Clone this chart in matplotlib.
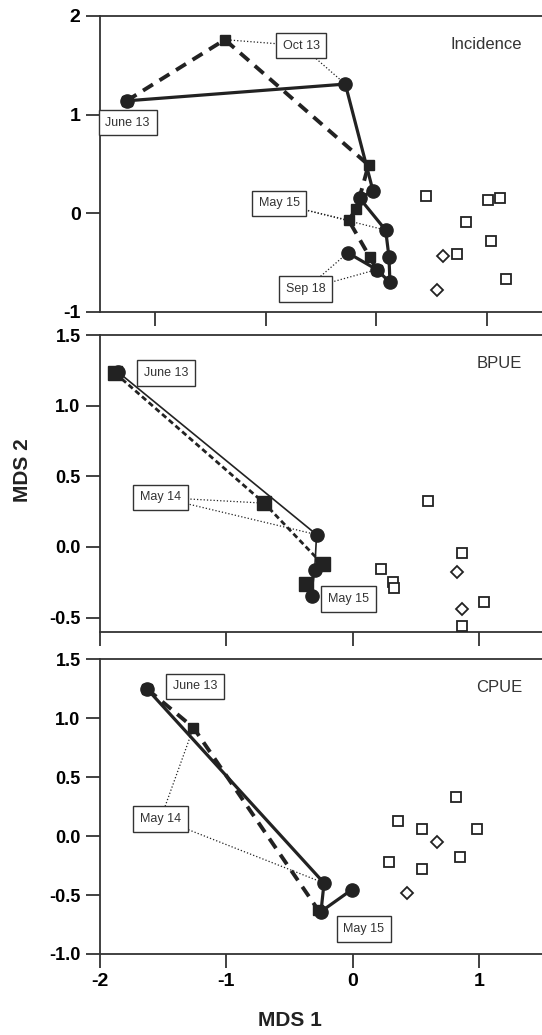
import matplotlib
matplotlib.use("Agg")
import matplotlib.pyplot as plt
from matplotlib.ticker import FormatStrFormatter

plt.rcParams['font.family'] = ['Liberation Sans', 'DejaVu Sans']
plt.rcParams['axes.unicode_minus'] = False

# --- Incidence (oberes Feld) ---
inc_line_x = [-2.26, -0.28, -0.03, -0.15, 0.085, 0.115, 0.124, 0.004, -0.258]
inc_line_y = [1.14, 1.31, 0.23, 0.153, -0.17, -0.44, -0.70, -0.57, -0.40]
inc_dash_x = [-2.26, -1.37, -0.07, -0.18, -0.25, -0.06, 0.004]
inc_dash_y = [1.14, 1.76, 0.49, 0.045, -0.07, -0.44, -0.57]
inc_sq_x = [0.447, 1.014, 1.12, 0.812, 1.038, 0.734, 1.174]
inc_sq_y = [0.18, 0.14, 0.156, -0.09, -0.28, -0.41, -0.67]
inc_dia_x = [0.601, 0.547]
inc_dia_y = [-0.43, -0.78]
inc_labels = [("Oct 13", -0.68, 1.70, [(-1.37, 1.76), (-0.28, 1.31)]),
              ("June 13", -2.25, 0.92, []),
              ("May 15", -0.88, 0.10, [(-0.25, -0.07), (0.085, -0.17)]),
              ("Sep 18", -0.64, -0.77, [(-0.258, -0.40), (0.004, -0.57)])]

# --- BPUE (mittleres Feld) ---
bp_line_x = [-1.86, -0.285, -0.30, -0.325]
bp_line_y = [1.24, 0.087, -0.163, -0.347]
bp_dash_x = [-1.88, -0.70, -0.237, -0.365]
bp_dash_y = [1.23, 0.31, -0.123, -0.262]
bp_sq_x = [0.594, 0.87, 0.225, 0.32, 0.33, 1.04, 0.87]
bp_sq_y = [0.327, -0.04, -0.158, -0.245, -0.29, -0.39, -0.56]
bp_dia_x = [0.83, 0.87]
bp_dia_y = [-0.175, -0.44]
bp_labels = [("June 13", -1.475, 1.23, []),
             ("May 14", -1.52, 0.35, [(-0.70, 0.31), (-0.285, 0.087)]),
             ("May 15", -0.03, -0.37, [])]

# --- CPUE (unteres Feld) ---
cp_line_x = [-1.625, -0.226, -0.25, -0.007]
cp_line_y = [1.246, -0.398, -0.64, -0.455]
cp_dash_x = [-1.625, -1.26, -0.27]
cp_dash_y = [1.246, 0.92, -0.63]
cp_sq_x = [0.816, 0.357, 0.546, 0.982, 0.85, 0.29, 0.55]
cp_sq_y = [0.33, 0.13, 0.06, 0.062, -0.178, -0.22, -0.277]
cp_dia_x = [0.67, 0.43]
cp_dia_y = [-0.05, -0.48]
cp_labels = [("June 13", -1.25, 1.27, []),
             ("May 14", -1.52, 0.147, [(-1.26, 0.92), (-0.226, -0.398)]),
             ("May 15", 0.09, -0.79, [])]

farbe = '#222222'
W, H = 542, 1035
fig = plt.figure(figsize=(W / 100, H / 100), dpi=100)


def achse(top, bottom):
    return fig.add_axes([100 / W, 1 - bottom / H, 1 - 100 / W, (bottom - top) / H])


ax1 = achse(16, 312)
ax2 = achse(335, 631.7)
ax3 = achse(659.3, 954)


def feld(ax, lx, ly, dx, dy, sx, sy, mx, my, labels, titel, dick=True):
    if dick:
        ax.plot(lx, ly, '-', color=farbe, lw=2.3, marker='o', ms=9.5, zorder=4)
        ax.plot(dx, dy, '--', color=farbe, lw=2.8, dashes=(3, 2), marker='s', ms=7.5, zorder=3)
    else:
        ax.plot(lx, ly, '-', color=farbe, lw=1.2, marker='o', ms=9.5, zorder=4)
        ax.plot(dx, dy, '--', color=farbe, lw=2.0, dashes=(2, 1.2), marker='s', ms=9.5, zorder=3)
    ax.plot(sx, sy, 's', mfc='white', mec=farbe, mew=1.3, ms=6.5, ls='none', zorder=3)
    ax.plot(mx, my, 'D', mfc='white', mec=farbe, mew=1.3, ms=6, ls='none', zorder=3)
    for text, tx, ty, ziele in labels:
        for zx, zy in ziele:
            ax.plot([tx, zx], [ty, zy], ':', color=farbe, lw=0.9, zorder=2)
        ax.text(tx, ty, text, fontsize=9, ha='center', va='center', color='#333333', zorder=6,
                bbox=dict(boxstyle='square,pad=0.55', fc='white', ec='#333333', lw=1.0))
    ax.text(0.955, 0.905, titel, transform=ax.transAxes, ha='right', va='center',
            fontsize=12, color='#333333')
    ax.spines['right'].set_visible(False)
    for s in ['left', 'bottom', 'top']:
        ax.spines[s].set_linewidth(1.3)
        ax.spines[s].set_color('#333333')
    ax.tick_params(direction='out', length=10, width=1.3, color='#333333', labelsize=13,
                   pad=4, top=False, right=False)
    for lab in ax.get_yticklabels() + ax.get_xticklabels():
        lab.set_fontweight('bold')


feld(ax1, inc_line_x, inc_line_y, inc_dash_x, inc_dash_y, inc_sq_x, inc_sq_y,
     inc_dia_x, inc_dia_y, inc_labels, 'Incidence')
ax1.set_xlim(-2.5, 1.5)
ax1.set_ylim(-1, 2)
ax1.set_xticks([-2, -1, 0, 1])
ax1.set_yticks([-1, 0, 1, 2])
ax1.set_xticklabels([])
ax1.set_yticklabels(['-1', '0', '1', '2'], fontweight='bold', fontsize=14)

feld(ax2, bp_line_x, bp_line_y, bp_dash_x, bp_dash_y, bp_sq_x, bp_sq_y,
     bp_dia_x, bp_dia_y, bp_labels, 'BPUE', dick=False)
ax2.set_xlim(-2, 1.5)
ax2.set_ylim(-0.6, 1.5)
ax2.set_xticks([-2, -1, 0, 1])
ax2.set_yticks([-0.5, 0, 0.5, 1.0, 1.5])
ax2.set_xticklabels([])
ax2.yaxis.set_major_formatter(FormatStrFormatter('%.1f'))

feld(ax3, cp_line_x, cp_line_y, cp_dash_x, cp_dash_y, cp_sq_x, cp_sq_y,
     cp_dia_x, cp_dia_y, cp_labels, 'CPUE')
ax3.set_xlim(-2, 1.5)
ax3.set_ylim(-1.0, 1.5)
ax3.set_xticks([-2, -1, 0, 1])
ax3.set_yticks([-1.0, -0.5, 0, 0.5, 1.0, 1.5])
ax3.yaxis.set_major_formatter(FormatStrFormatter('%.1f'))
ax3.set_xticklabels(['-2', '-1', '0', '1'], fontweight='bold', fontsize=14)

for ax in (ax2, ax3):
    for lab in ax.get_yticklabels():
        lab.set_fontweight('bold')
        lab.set_fontsize(13)

fig.text(22 / W, 1 - 470 / H, 'MDS 2', rotation=90, ha='center', va='center',
         fontsize=15, fontweight='bold', color='#222222')
fig.text((100 + 442 * 0.43) / W, 1 - 1020 / H, 'MDS 1', ha='center', va='center',
         fontsize=15, fontweight='bold', color='#222222')

fig.savefig('out.png', dpi=100)
